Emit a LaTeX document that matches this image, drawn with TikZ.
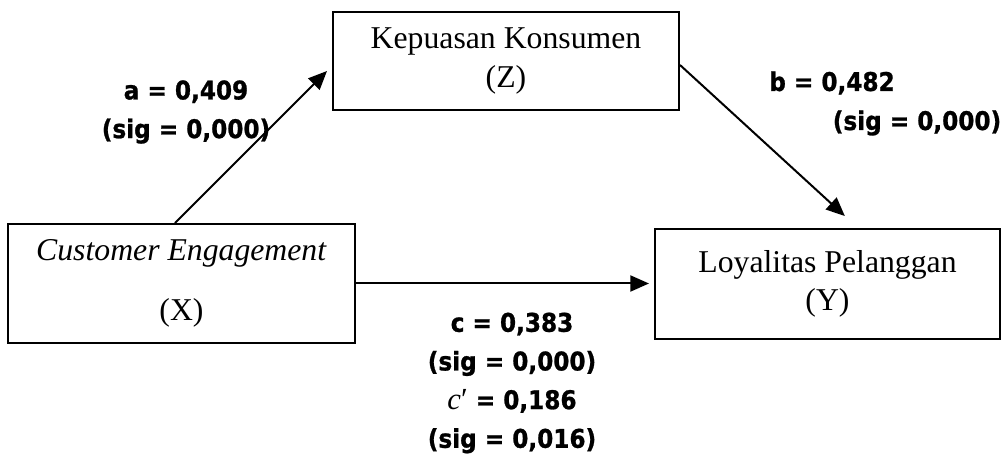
\documentclass[tikz,border=0pt]{standalone}
\usepackage{fontspec}
\setmainfont{Liberation Serif}
\newfontfamily\labfont{DejaVu Sans}[FakeStretch=0.9,BoldFeatures={FakeBold=1}]
\usetikzlibrary{arrows.meta}
\newcommand{\cprime}{{\normalfont\fontsize{23pt}{29pt}\selectfont\itshape c\/\upshape′}}
\begin{document}
\begin{tikzpicture}[x=0.75pt,y=-0.75pt,
  box/.style={draw, line width=1.5pt, inner sep=0pt, align=center, font=\fontsize{23.8pt}{29pt}\selectfont},
  lab/.style={inner sep=0pt, align=center, font=\labfont\bfseries\fontsize{19.3pt}{29pt}\selectfont},
  arr/.style={line width=1.5pt, -{Triangle[length=14pt,width=12pt]}}]
\useasboundingbox (0,0) rectangle (1007,459);
\node[box, minimum width=259.5pt, minimum height=73.5pt] (Z) at (506,61) {Kepuasan Konsumen\\(Z)};
\node[box, minimum width=260.25pt, minimum height=89.25pt] (X) at (181.5,283.5) {\textit{Customer Engagement}\\[16pt](X)};
\node[box, minimum width=258.75pt, minimum height=82.5pt] (Y) at (827.5,284) {Loyalitas Pelanggan\\(Y)};
\node[lab] (la) at (186,112) {a = 0,409\\(sig = 0,000)};
\node[lab] (lb1) at (832,83) {b = 0,482};
\node[lab] (lb2) at (917,123) {(sig = 0,000)};
\node[lab] (lc) at (512,383) {c = 0,383\\(sig = 0,000)\\\cprime{} = 0,186\\(sig = 0,016)};
\draw[arr] ([xshift=-4.9pt]X.north) -- ([shift={(-3.75pt,-7.5pt)}]Z.west);
\draw[arr] ([yshift=-3pt]Z.east) -- ([shift={(13pt,9pt)}]Y.north);
\draw[arr, shorten >=3.75pt] (X.east) -- (X.east -| Y.west);
\end{tikzpicture}
\end{document}
